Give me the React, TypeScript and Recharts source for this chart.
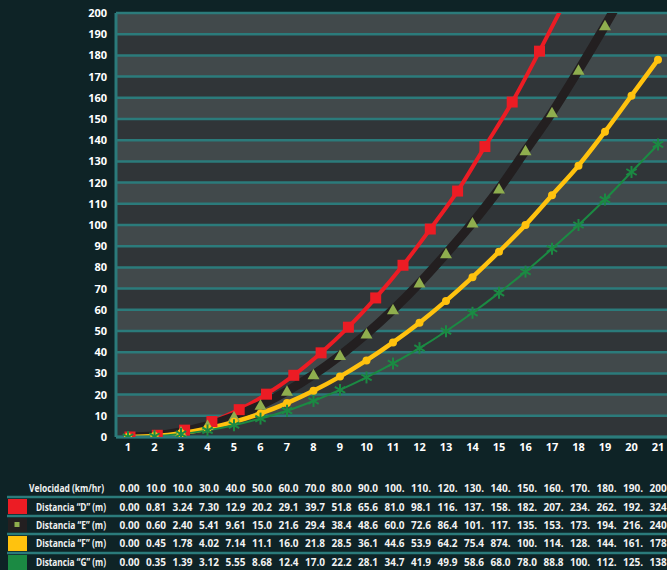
import React from 'react'
import { LineChart, Line, XAxis, YAxis, CartesianGrid } from 'recharts'

// columns 1..21 under the chart
const CATEGORIES = [1, 2, 3, 4, 5, 6, 7, 8, 9, 10, 11, 12, 13, 14, 15, 16, 17, 18, 19, 20, 21]
const Y_TICKS = [0, 10, 20, 30, 40, 50, 60, 70, 80, 90, 100, 110, 120, 130, 140, 150, 160, 170, 180, 190, 200]

// distances (m) plotted per column
const DIST_D = [0, 0.81, 3.24, 7.3, 12.9, 20.2, 29.1, 39.7, 51.8, 65.6, 81.0, 98.1, 116, 137, 158, 182, 207, 234, 262, 292, 324]
const DIST_E = [0, 0.6, 2.4, 5.41, 9.61, 15.0, 21.6, 29.4, 38.4, 48.6, 60.0, 72.6, 86.4, 101, 117, 135, 153, 173, 194, 216, 240]
const DIST_F = [0, 0.45, 1.78, 4.02, 7.14, 11.1, 16.0, 21.8, 28.5, 36.1, 44.6, 53.9, 64.2, 75.4, 87.4, 100, 114, 128, 144, 161, 178]
const DIST_G = [0, 0.35, 1.39, 3.12, 5.55, 8.68, 12.4, 17.0, 22.2, 28.1, 34.7, 41.9, 49.9, 58.6, 68.0, 78.0, 88.8, 100, 112, 125, 138]

// table text, as printed
const VEL_TEXT = ['0.00', '10.0', '10.0', '30.0', '40.0', '50.0', '60.0', '70.0', '80.0', '90.0', '100.', '110.', '120.', '130.', '140.', '150.', '160.', '170.', '180.', '190.', '200']
const D_TEXT = ['0.00', '0.81', '3.24', '7.30', '12.9', '20.2', '29.1', '39.7', '51.8', '65.6', '81.0', '98.1', '116.', '137.', '158.', '182.', '207.', '234.', '262.', '192.', '324']
const E_TEXT = ['0.00', '0.60', '2.40', '5.41', '9.61', '15.0', '21.6', '29.4', '38.4', '48.6', '60.0', '72.6', '86.4', '101.', '117.', '135.', '153.', '173.', '194.', '216.', '240']
const F_TEXT = ['0.00', '0.45', '1.78', '4.02', '7.14', '11.1', '16.0', '21.8', '28.5', '36.1', '44.6', '53.9', '64.2', '75.4', '874.', '100.', '114.', '128.', '144.', '161.', '178']
const G_TEXT = ['0.00', '0.35', '1.39', '3.12', '5.55', '8.68', '12.4', '17.0', '22.2', '28.1', '34.7', '41.9', '49.9', '58.6', '68.0', '78.0', '88.8', '100.', '112.', '125.', '138']

const BG = '#0e2326'
const TEAL = '#2b7b7b'
const RED = '#ec1c24'
const BLACK = '#231f20'
const TRI = '#8fae4e'
const YELLOW = '#ffc20e'
const GREEN = '#1b8a43'
const FONT = '"Open Sans", "DejaVu Sans", sans-serif'

const W = 667
const H = 570
const PLOT_LEFT = 116
const PAD_LEFT = 12
const PAD_RIGHT = 9
const STEP = (W - PLOT_LEFT - PAD_LEFT - PAD_RIGHT) / (CATEGORIES.length - 1)
const Y_MAX = 200

// keep points until the series leaves the top of the chart
function untilTop(values: number[]) {
    let out = false
    return values.map((v) => {
        if (out) return null
        if (v > Y_MAX) out = true
        return v
    })
}

const dVis = untilTop(DIST_D)
const eVis = untilTop(DIST_E)
const fVis = untilTop(DIST_F)
const gVis = untilTop(DIST_G)

const data = CATEGORIES.map((x, i) => ({ x, d: dVis[i], e: eVis[i], f: fVis[i], g: gVis[i] }))

const SquareDot = (props: any) => {
    const { cx, cy, index } = props
    if (cx == null || cy == null) return <g key={`sq-${index}`} />
    return <rect key={`sq-${index}`} x={cx - 5.5} y={cy - 5.5} width={11} height={11} fill={RED} />
}

const TriangleDot = (props: any) => {
    const { cx, cy, index } = props
    if (cx == null || cy == null) return <g key={`tr-${index}`} />
    return <polygon key={`tr-${index}`} points={`${cx},${cy - 6} ${cx + 6},${cy + 4.5} ${cx - 6},${cy + 4.5}`} fill={TRI} />
}

const StarDot = (props: any) => {
    const { cx, cy, index } = props
    if (cx == null || cy == null) return <g key={`st-${index}`} />
    const r = 6
    const a = r * Math.cos(Math.PI / 6)
    const b = r * Math.sin(Math.PI / 6)
    return (
        <g key={`st-${index}`} stroke={GREEN} strokeWidth={2}>
            <line x1={cx} y1={cy - r} x2={cx} y2={cy + r} />
            <line x1={cx - a} y1={cy - b} x2={cx + a} y2={cy + b} />
            <line x1={cx - a} y1={cy + b} x2={cx + a} y2={cy - b} />
        </g>
    )
}

// value columns start a little left of each tick
const colX = (i: number) => PLOT_LEFT + PAD_LEFT + i * STEP - 8.5

function Table() {
    const rows = [
        { label: 'Velocidad (km/hr)', text: VEL_TEXT, y: 488, labelLen: 75, labelEnd: 104 },
        { label: 'Distancia “D” (m)', text: D_TEXT, y: 507, labelLen: 70, labelEnd: 106 },
        { label: 'Distancia “E” (m)', text: E_TEXT, y: 525, labelLen: 70, labelEnd: 106 },
        { label: 'Distancia “F” (m)', text: F_TEXT, y: 543, labelLen: 70, labelEnd: 106 },
        { label: 'Distancia “G” (m)', text: G_TEXT, y: 562, labelLen: 70, labelEnd: 106 },
    ]
    const separators = [497, 516, 534, 553]
    return (
        <svg width={W} height={H} style={{ position: 'absolute', left: 0, top: 0, pointerEvents: 'none' }}>
            {/* colour keys */}
            <rect x={8} y={499} width={19} height={15} fill={RED} />
            <rect x={8} y={518} width={19} height={14} fill={BLACK} />
            <rect x={14.5} y={522} width={5} height={5} fill={TRI} />
            <rect x={8} y={536} width={19} height={15} fill={YELLOW} />
            <rect x={8} y={555} width={19} height={15} fill={GREEN} />
            {separators.map((y) => (
                <line key={y} x1={7} x2={W} y1={y} y2={y} stroke={TEAL} strokeWidth={2.5} />
            ))}
            {rows.map((r) => (
                <g key={r.label} fontFamily={FONT} fontWeight={700} fontSize={10} fill="#f2f2f2">
                    <text x={r.labelEnd} y={r.y} textAnchor="end" dominantBaseline="central" textLength={r.labelLen} lengthAdjust="spacingAndGlyphs">
                        {r.label}
                    </text>
                    {r.text.map((t, i) => (
                        <text key={i} x={colX(i)} y={r.y} textAnchor="start" dominantBaseline="central">
                            {t}
                        </text>
                    ))}
                </g>
            ))}
        </svg>
    )
}

export default function App() {
    const tickStyle = { fill: '#ffffff', fontSize: 11, fontWeight: 700, fontFamily: FONT }
    return (
        <div style={{ position: 'absolute', left: 0, top: 0, width: W, height: H, background: BG, overflow: 'hidden', fontFamily: FONT }}>
            <LineChart width={W} height={460} data={data} margin={{ top: 13, right: 0, bottom: 0, left: 0 }}>
                <CartesianGrid
                    vertical={false}
                    stroke={TEAL}
                    strokeWidth={2.5}
                    horizontalFill={['#41494b', '#303538']}
                    fillOpacity={1}
                />
                <XAxis
                    dataKey="x"
                    type="number"
                    domain={[1, 21]}
                    ticks={CATEGORIES}
                    interval={0}
                    padding={{ left: PAD_LEFT, right: PAD_RIGHT }}
                    height={23}
                    tickLine={false}
                    tickMargin={0}
                    axisLine={{ stroke: TEAL, strokeWidth: 3 }}
                    tick={tickStyle}
                />
                {/* the "D" curve sits on a slightly wider spacing in the original */}
                <XAxis
                    xAxisId="d"
                    dataKey="x"
                    type="number"
                    domain={[1, 21]}
                    padding={{ left: 14, right: -9 }}
                    hide
                />
                <YAxis
                    domain={[0, Y_MAX]}
                    ticks={Y_TICKS}
                    interval={0}
                    allowDataOverflow
                    width={PLOT_LEFT}
                    tickLine={false}
                    tickMargin={3}
                    axisLine={{ stroke: TEAL, strokeWidth: 3 }}
                    tick={tickStyle}
                />
                <Line xAxisId="d" dataKey="d" type="monotone" stroke={RED} strokeWidth={4} dot={SquareDot} activeDot={false} isAnimationActive={false} />
                <Line dataKey="e" type="monotone" stroke={BLACK} strokeWidth={9} dot={TriangleDot} activeDot={false} isAnimationActive={false} />
                <Line dataKey="f" type="monotone" stroke={YELLOW} strokeWidth={4.5} dot={{ r: 4, fill: YELLOW, stroke: YELLOW, strokeWidth: 0 }} activeDot={false} isAnimationActive={false} />
                <Line dataKey="g" type="monotone" stroke={GREEN} strokeWidth={2} dot={StarDot} activeDot={false} isAnimationActive={false} />
            </LineChart>
            <Table />
        </div>
    )
}
